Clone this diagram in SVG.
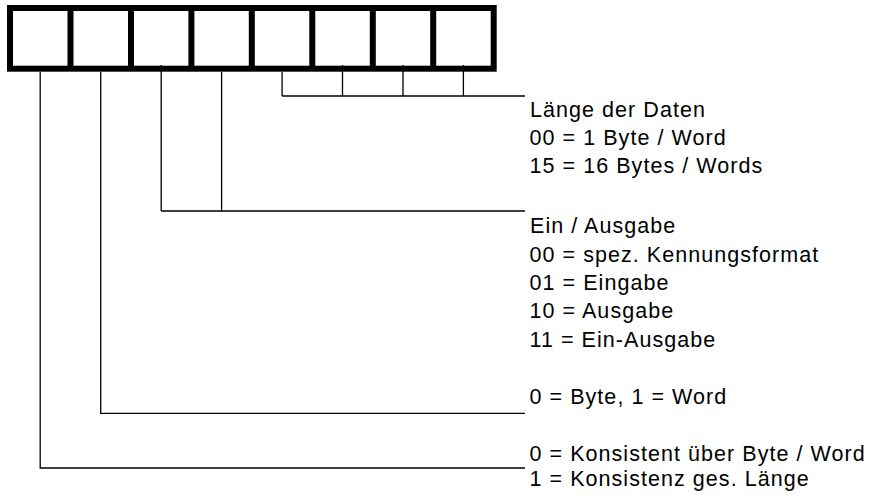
<svg xmlns="http://www.w3.org/2000/svg" width="870" height="496" viewBox="0 0 870 496">
<style>
.box{fill:none;stroke:#000;stroke-width:6}
.ln{fill:none;stroke:#000;stroke-width:1.3}
text{font-family:"Liberation Sans",Arial,sans-serif;font-size:21.5px;fill:#000;letter-spacing:1.05px}
</style>
<rect width="870" height="496" fill="#fff"/>
<g id="register">
<rect class="box" x="10" y="8" width="483.7" height="60.7"/>
<path class="box" d="M70.5 8V68.7M131 8V68.7M191.4 8V68.7M251.8 8V68.7M312.3 8V68.7M372.8 8V68.7M433.2 8V68.7"/>
</g>
<g id="connectors">
<path class="ln" d="M282.1 72V96M342.5 65V96M403 65V96M463.4 65V96M282.1 96H525"/>
<path class="ln" d="M161.2 65V211M221.6 72V211M161.2 211H525"/>
<path class="ln" d="M100.7 72V413.3H525"/>
<path class="ln" d="M40.2 72V468H525"/>
</g>
<g id="label-laenge">
<text x="530" y="116.6">Länge der Daten</text>
<text x="529.5" y="144.9">00 = 1 Byte / Word</text>
<text x="529.5" y="173.2">15 = 16 Bytes / Words</text>
</g>
<g id="label-einausgabe">
<text x="530" y="233.3">Ein / Ausgabe</text>
<text x="529.5" y="261.7">00 = spez. Kennungsformat</text>
<text x="529.5" y="290">01 = Eingabe</text>
<text x="529.5" y="318.3">10 = Ausgabe</text>
<text x="529.5" y="346.7">11 = Ein-Ausgabe</text>
</g>
<g id="label-byteword">
<text x="529.5" y="404">0 = Byte, 1 = Word</text>
</g>
<g id="label-konsistenz">
<text x="529.5" y="460.6">0 = Konsistent über Byte / Word</text>
<text x="529.5" y="486">1 = Konsistenz ges. Länge</text>
</g>
</svg>
